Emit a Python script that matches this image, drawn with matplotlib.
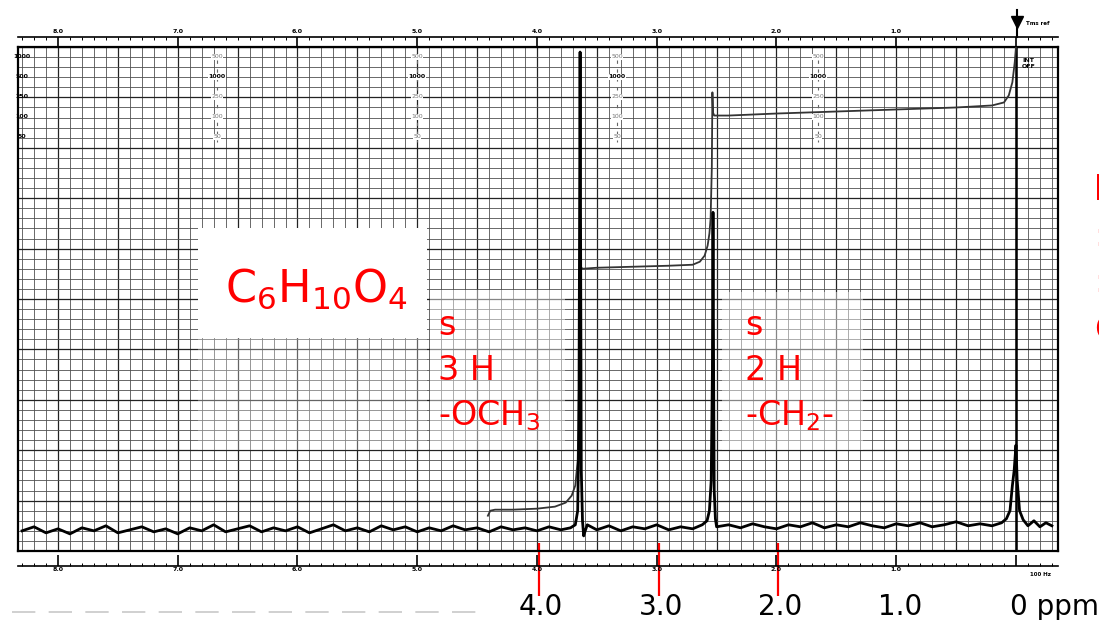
import numpy as np
import matplotlib
matplotlib.use('Agg')
import matplotlib.pyplot as plt
from matplotlib.patches import Rectangle
from matplotlib.ticker import MultipleLocator
from matplotlib.transforms import offset_copy

# spectrum trace: ppm and height in chart divisions above the bottom border
spec_ppm = [8.30, 8.20, 8.10, 8.00, 7.90, 7.80, 7.70, 7.60, 7.50, 7.40, 7.30, 7.20,
            7.10, 7.00, 6.90, 6.80, 6.70, 6.60, 6.50, 6.40, 6.30, 6.20, 6.10, 6.00,
            5.90, 5.80, 5.70, 5.60, 5.50, 5.40, 5.30, 5.20, 5.10, 5.00, 4.90, 4.80,
            4.70, 4.60, 4.50, 4.40, 4.30, 4.20, 4.10, 4.00, 3.90, 3.80, 3.72,
            3.68, 3.66, 3.65, 3.645, 3.64, 3.635, 3.63, 3.62, 3.61, 3.60, 3.58,
            3.50, 3.40, 3.30, 3.20, 3.10, 3.00, 2.90, 2.80, 2.70, 2.62,
            2.58, 2.56, 2.545, 2.535, 2.53, 2.525, 2.52, 2.51, 2.50,
            2.40, 2.30, 2.20, 2.10, 2.00, 1.90, 1.80, 1.70, 1.60, 1.50, 1.40, 1.30,
            1.20, 1.10, 1.00, 0.90, 0.80, 0.70, 0.60, 0.50, 0.40, 0.30, 0.20, 0.12, 0.08,
            0.05, 0.03, 0.015, 0.0, -0.01, -0.03, -0.06, -0.10, -0.15, -0.20, -0.25, -0.30]
spec_int = [2.0, 2.4, 1.8, 2.2, 1.7, 2.3, 2.0, 2.5, 1.8, 2.1, 2.4, 1.9,
            2.2, 1.7, 2.3, 2.0, 2.6, 1.9, 2.2, 2.5, 1.9, 2.3, 2.0, 2.4,
            1.8, 2.2, 2.6, 2.0, 2.3, 1.9, 2.5, 2.1, 2.4, 1.9, 2.3, 2.0,
            2.5, 2.1, 2.3, 1.9, 2.4, 2.1, 2.3, 2.0, 2.4, 2.1, 2.3,
            2.6, 4.0, 12.0, 30.0, 49.5, 28.0, 8.0, 3.0, 1.5, 1.9, 2.6,
            2.1, 2.5, 2.0, 2.4, 2.2, 2.6, 2.1, 2.4, 2.2, 2.6,
            3.0, 4.0, 7.0, 18.0, 33.6, 18.0, 6.0, 3.2, 2.4,
            2.6, 2.3, 2.7, 2.4, 2.2, 2.6, 2.4, 2.8, 2.3, 2.6, 2.4, 2.8,
            2.5, 2.3, 2.7, 2.5, 2.8, 2.4, 2.6, 2.9, 2.5, 2.7, 2.5, 2.8, 3.2,
            4.0, 6.5, 8.0, 10.5, 7.0, 4.0, 3.1, 2.5, 3.0, 2.4, 2.8, 2.5]

# integral trace
integ_ppm = [4.41, 4.39, 4.35, 4.20, 4.00, 3.85, 3.76, 3.71, 3.68, 3.66, 3.65, 3.645,
             3.64, 3.635, 3.62, 3.50, 3.20, 2.90, 2.70, 2.64, 2.60, 2.575, 2.56, 2.55,
             2.54, 2.535, 2.53, 2.52, 2.40, 2.00, 1.50, 1.00, 0.50, 0.20, 0.10, 0.06,
             0.03, 0.01, 0.0]
integ_val = [3.5, 4.0, 4.1, 4.1, 4.2, 4.4, 4.8, 5.5, 6.5, 9.0, 16.0, 26.0,
             29.3, 28.2, 28.0, 28.1, 28.2, 28.3, 28.4, 28.7, 29.3, 30.3, 31.5, 33.0,
             38.0, 45.5, 43.5, 43.2, 43.2, 43.4, 43.6, 43.8, 44.0, 44.2, 44.5, 45.2,
             46.5, 48.5, 50.0]

scale_ticks = [8, 7, 6, 5, 4, 3, 2, 1, 0]
scale_labels = ['8.0', '7.0', '6.0', '5.0', '4.0', '3.0', '2.0', '1.0', '']
red_ticks = [4.0, 3.0, 2.0]
ppm_ticks = [4.0, 3.0, 2.0, 1.0]
ppm_labels = ['4.0', '3.0', '2.0', '1.0']

formula = r'$\mathregular{C_6H_{10}O_4}$'
note_3h = ['s', '3 H', '-OCH$_3$']
note_2h = ['s', '2 H', '-CH$_2$-']

sweep_left = ['1000', '500', '250', '100', '50']
sweep_cols = ['500', '1000', '250', '100', '50']

W, H = 1099, 620
fig = plt.figure(figsize=(W / 100, H / 100), dpi=100)


def px_box(x0, y0, x1, y1):
    return [x0 / W, 1 - y1 / H, (x1 - x0) / W, (y1 - y0) / H]


x_lo, x_hi = 8.334, -0.351

# chart paper
ax = fig.add_axes(px_box(18, 47, 1058, 551))
ax.set_xlim(x_lo, x_hi)
ax.set_ylim(0, 50)
ax.xaxis.set_major_locator(MultipleLocator(0.5))
ax.xaxis.set_minor_locator(MultipleLocator(0.1))
ax.yaxis.set_major_locator(MultipleLocator(5))
ax.yaxis.set_minor_locator(MultipleLocator(1))
ax.set_axisbelow(True)
ax.grid(which='major', color='#222222', lw=0.9)
ax.grid(which='minor', color='#505050', lw=0.6)
ax.tick_params(which='both', length=0, labelbottom=False, labelleft=False)
for s in ax.spines.values():
    s.set_linewidth(1.6)

ax.axvline(0, color='black', lw=1.8, zorder=3)
ax.plot(integ_ppm, integ_val, color='#333333', lw=1.3, zorder=3)
ax.plot(spec_ppm, spec_int, color='black', lw=2.0, zorder=4)

# red ppm markers below the chart
trans = ax.get_xaxis_transform()
ax.vlines(red_ticks, -0.0893, 0.0159, colors='red', lw=1.6, clip_on=False,
          transform=offset_copy(trans, fig=fig, x=2, y=0, units='dots'))
lab_trans = offset_copy(trans, fig=fig, x=4, y=0, units='dots')
for p, lab in zip(ppm_ticks, ppm_labels):
    ax.text(p, -0.111, lab, transform=lab_trans, ha='center', va='center', fontsize=20)
ax.text(0, -0.111, '0 ppm', transform=offset_copy(trans, fig=fig, x=-6, y=0, units='dots'),
        ha='left', va='center', fontsize=20)

# scale strips above and below the paper
ax_t = fig.add_axes(px_box(18, 37, 1058, 47))
ax_b = fig.add_axes(px_box(18, 551, 1058, 566))
for a in (ax_t, ax_b):
    a.set_xlim(x_lo, x_hi)
    a.set_ylim(0, 1)
    a.patch.set_alpha(0)
    a.set_yticks([])
    a.set_xticks(scale_ticks)
    a.set_xticklabels(scale_labels)
    a.xaxis.set_minor_locator(MultipleLocator(0.1))
    for s in a.spines.values():
        s.set_visible(False)
ax_t.spines['top'].set_visible(True)
ax_t.spines['top'].set_linewidth(1.2)
ax_t.xaxis.tick_top()
ax_t.tick_params(axis='x', which='major', direction='in', length=7.2, width=1.2,
                 labelsize=4.5, pad=2)
ax_t.tick_params(axis='x', which='minor', direction='in', length=2, width=0.7)
ax_b.spines['bottom'].set_visible(True)
ax_b.spines['bottom'].set_linewidth(1.2)
ax_b.tick_params(axis='x', which='major', direction='in', length=7.9, width=1.2,
                 labelsize=4.5, pad=1)
ax_b.tick_params(axis='x', which='minor', direction='in', length=2, width=0.7)
for a in (ax_t, ax_b):
    for t in a.get_xticklabels():
        t.set_fontweight('bold')

# overlay in pixel units for the slide annotations
ax_n = fig.add_axes([0, 0, 1, 1])
ax_n.set_xlim(0, W)
ax_n.set_ylim(H, 0)
ax_n.axis('off')
ax_n.patch.set_alpha(0)

ax_n.add_patch(Rectangle((198, 228), 229, 110, fc='white', ec='none'))
for (x0, y0, w, h, al) in [(430, 290, 135, 160, 0.45), (722, 292, 141, 158, 0.45),
                           (198, 338, 229, 112, 0.3)]:
    ax_n.add_patch(Rectangle((x0, y0), w, h, fc='white', ec='none', alpha=al))

ax_n.text(225, 302, formula, color='red', fontsize=32, va='baseline', ha='left')
for x0, note in [(438, note_3h), (745, note_2h)]:
    for yb, line in zip([335, 380, 425], note):
        ax_n.text(x0, yb, line, color='red', fontsize=24, va='baseline', ha='left')
# red text cut off by the slide edge, as in the source image
for yb, ch in zip([200, 246, 292, 340], ['b', ':', ':', 'C']):
    ax_n.text(1094, yb, ch, color='red', fontsize=24, va='baseline', ha='left')

# sweep width columns on the paper
rows_y = [57, 77, 97, 117, 137]
for yb, lab in zip(rows_y, sweep_left):
    ax_n.text(22, yb, lab, fontsize=4.5, fontweight='bold', ha='center', va='center')
for cx in [217, 417, 617, 818]:
    for i, (yb, lab) in enumerate(zip(rows_y, sweep_cols)):
        ax_n.text(cx, yb, lab, fontsize=4.5, ha='center', va='center',
                  color='black' if i == 1 else '#777777',
                  fontweight='bold' if i == 1 else 'normal',
                  bbox=dict(fc='white', ec='none', pad=0.3))
    ax_n.vlines(cx, 60, 142, colors='#666666', lw=0.8, linestyles=(0, (3, 5)))

# TMS reference arrow
ax_n.plot([1017, 1017], [10, 37], color='black', lw=1.5)
ax_n.plot(1017, 22, marker='v', ms=8, color='black')
ax_n.text(1026, 25, 'Tms ref', fontsize=4, fontweight='bold')
ax_n.text(1022, 58, 'INT\nOFF', fontsize=4.5, fontweight='bold', va='top')
ax_n.text(1040, 575, '100 Hz', fontsize=4, fontweight='bold', ha='center', va='center')

ax_n.plot([12, 480], [612, 612], color='#c8c8c8', lw=1.2, ls=(0, (14, 8)))

fig.savefig('out.png', dpi=100, facecolor='white')
